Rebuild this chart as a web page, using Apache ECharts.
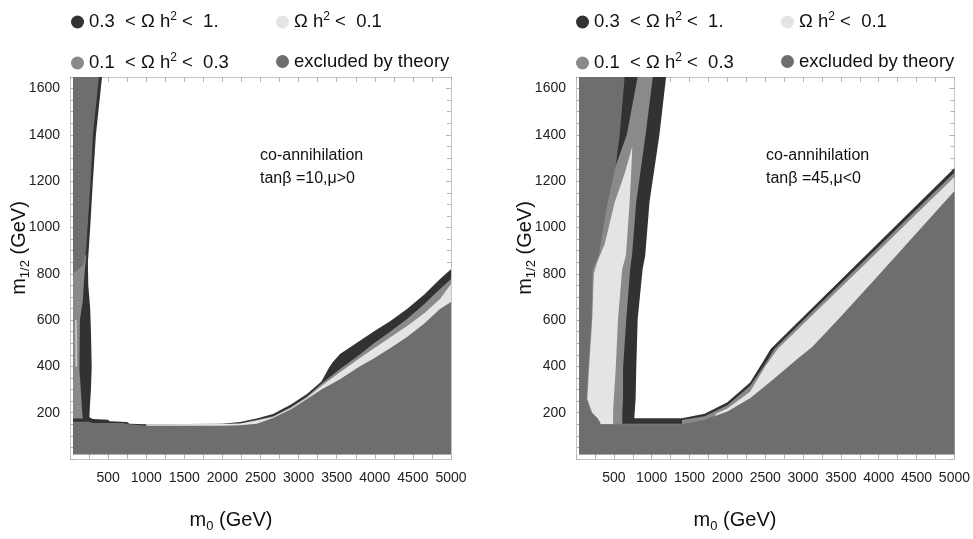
<!DOCTYPE html>
<html><head><meta charset="utf-8">
<script src="https://cdn.jsdelivr.net/npm/echarts@6.0.0/dist/echarts.min.js"></script>
<style>html,body{margin:0;padding:0;background:#fff}#c{width:973px;height:539px}</style>
</head><body><div id="c"></div>
<script>
// ---------- DATA (m0, m1/2 in GeV) ----------
const xTicks = [500,1000,1500,2000,2500,3000,3500,4000,4500,5000];
const yTicks = [200,400,600,800,1000,1200,1400,1600];
const seriesNames = ['0.3 < Ωh² < 1.', '0.1 < Ωh² < 0.3', 'Ωh² < 0.1', 'excluded by theory'];

// Left panel: tanβ = 10, μ > 0
const leftDark = [
  [[40,1650],[420,1650],[340,1400],[300,1200],[265,1000],[235,850],[240,750],[265,650],[275,550],[285,400],[275,300],[260,220],[255,180],[300,173],[500,170],[520,163],[750,160],[780,152],[1000,150],[2000,152],[2231,160],[2450,175],[2664,194],[2900,235],[3110,281],[3300,335],[3400,395],[3450,419],[3543,453],[3800,510],[3976,549],[4200,595],[4423,648],[4650,710],[4856,777],[5000,820],[5000,20],[40,20]]
];
const leftMedium = [
  [[40,880],[215,880],[195,820],[180,750],[167,680],[131,605],[123,390],[150,260],[160,200],[170,175],[40,175]],
  [[1000,148],[2231,152],[2664,185],[2900,225],[3110,270],[3300,325],[3543,389],[3800,450],[3976,497],[4200,550],[4423,605],[4650,670],[4856,734],[5000,777],[5000,20],[1000,20]]
];
const leftLight = [
  [[70,600],[85,600],[90,400],[75,400]],
  [[1000,150],[2000,151],[2231,153],[2450,166],[2664,181],[2900,220],[3110,265],[3300,315],[3543,375],[3800,435],[3976,475],[4200,525],[4423,575],[4650,630],[4856,691],[5000,756],[5000,20],[1000,20]]
];
const leftExcluded = [
  [[40,1650],[380,1650],[300,1400],[270,1200],[230,1000],[210,900],[180,840],[40,800]],
  [[40,20],[40,161],[250,161],[300,155],[700,155],[750,151],[1000,144],[2000,144],[2231,146],[2450,152],[2664,177],[2900,215],[3110,259],[3300,300],[3543,345],[3800,400],[3976,432],[4200,478],[4423,527],[4650,585],[4856,648],[5000,678],[5000,20]]
];

// Right panel: tanβ = 45, μ < 0
const rightDark = [
  [[40,1650],[1190,1650],[1102,1400],[971,1110],[915,880],[880,820],[815,605],[796,390],[788,260],[775,200],[770,176],[1400,176],[1700,195],[2000,245],[2300,330],[2480,425],[2572,475],[3000,613],[3500,774],[4000,935],[4500,1096],[5000,1257],[5000,20],[40,20]]
];
const rightMedium = [
  [[40,1267],[525,1267],[670,1400],[814,1650],[1015,1650],[919,1400],[796,1110],[740,880],[715,820],[665,605],[621,390],[621,260],[612,200],[612,152],[1400,152],[1400,168],[1700,185],[2000,232],[2300,315],[2500,410],[2620,475],[3000,598],[3500,758],[4000,918],[4500,1078],[5000,1238],[5000,20],[40,20]]
];
const rightLight = [
  [[744,1350],[640,1230],[512,1110],[380,930],[280,850],[235,800],[215,605],[172,390],[150,260],[180,230],[215,200],[290,175],[320,160],[320,150],[490,150],[490,200],[499,260],[525,390],[555,605],[610,820],[660,880],[709,1110],[735,1280]],
  [[1800,150],[1850,195],[2000,218],[2300,290],[2500,400],[2664,475],[3000,582],[3500,741],[4000,900],[4500,1059],[5000,1218],[5000,20],[1800,20]]
];
const rightExcluded = [
  [[40,1650],[643,1650],[577,1400],[525,1267],[420,1110],[300,880],[220,820],[205,605],[162,390],[140,260],[170,230],[206,200],[280,175],[315,155],[330,150],[1400,150],[1700,170],[2000,205],[2300,262],[2600,342],[2900,425],[3124,485],[3500,615],[4000,795],[4500,976],[5000,1158],[5000,20],[40,20]]
];

// ---------- STYLE ----------
const FONT = '"Liberation Sans", Arial, Helvetica, sans-serif';
const colors = ['#323232', '#8a8a8a', '#e4e4e4', '#6e6e6e'];
const legendRich = {
  t: {fontSize: 18.5, lineHeight: 22, fontFamily: FONT, color: '#111'},
  s: {fontSize: 12, lineHeight: 12, verticalAlign: 'top', fontFamily: FONT, color: '#111'}
};
const legendText = {
  '0.3 < Ωh² < 1.': '{t|0.3  < Ω h}{s|2}{t| <  1.}',
  '0.1 < Ωh² < 0.3': '{t|0.1  < Ω h}{s|2}{t| <  0.3}',
  'Ωh² < 0.1': '{t|Ω h}{s|2}{t| <  0.1}',
  'excluded by theory': '{t|excluded by theory}'
};

const chart = echarts.init(document.getElementById('c'), null, {renderer: 'canvas'});

function polySeries(name, polys, color, gi) {
  return {
    type: 'custom', name: name, coordinateSystem: 'cartesian2d',
    xAxisIndex: gi * 2, yAxisIndex: gi * 2,
    silent: true, animation: false, clip: true,
    itemStyle: {color: color},
    data: polys.map((p, i) => [i, 0]),
    renderItem: function (params, api) {
      const pts = polys[params.dataIndex].map(pt => api.coord(pt));
      return {type: 'polygon', shape: {points: pts}, style: {fill: color, stroke: null}};
    }
  };
}

const tickColor = '#b4b4b4';
function xAxisPair(gi) {
  const base = {
    gridIndex: gi, type: 'value', min: 0, max: 5000, interval: 500,
    axisLine: {show: true, onZero: false, lineStyle: {color: '#c4c4c4'}},
    axisTick: {show: true, inside: true, length: 5, lineStyle: {color: tickColor}},
    minorTick: {show: true, splitNumber: 2, length: 5, lineStyle: {color: tickColor}},
    splitLine: {show: false}
  };
  return [
    Object.assign({}, base, {position: 'bottom', axisLabel: {
      show: true, fontSize: 14, color: '#222', margin: 12, fontFamily: FONT,
      formatter: v => (xTicks.indexOf(v) >= 0 ? String(v) : '')}}),
    Object.assign({}, base, {position: 'top', axisLabel: {show: false}})
  ];
}
function yAxisPair(gi) {
  const base = {
    gridIndex: gi, type: 'value', min: 0, max: 1650, interval: 200,
    axisLine: {show: true, onZero: false, lineStyle: {color: '#c4c4c4'}},
    axisTick: {show: true, inside: true, length: 5, lineStyle: {color: tickColor}},
    minorTick: {show: true, splitNumber: 4, length: 4, lineStyle: {color: tickColor}},
    splitLine: {show: false}
  };
  return [
    Object.assign({}, base, {position: 'left', axisLabel: {
      show: true, fontSize: 14, color: '#222', margin: 10, fontFamily: FONT,
      showMaxLabel: false,
      formatter: v => (yTicks.indexOf(v) >= 0 ? String(v) : '')}}),
    Object.assign({}, base, {position: 'right', axisLabel: {show: false}})
  ];
}

function legendAt(name, left, top) {
  return {
    data: [name], left: left, top: top, padding: 0, itemGap: 0,
    icon: 'circle', itemWidth: 13, itemHeight: 13, selectedMode: false,
    formatter: n => legendText[n],
    textStyle: {fontSize: 18.5, fontFamily: FONT, color: '#111', rich: legendRich}
  };
}

const panels = [
  {left: 70, data: [leftDark, leftMedium, leftLight, leftExcluded]},
  {left: 576, data: [rightDark, rightMedium, rightLight, rightExcluded]}
];

const series = [];
panels.forEach((p, gi) => {
  p.data.forEach((polys, k) => series.push(polySeries(seriesNames[k], polys, colors[k], gi)));
});

const titleRich = {
  m: {fontSize: 20, lineHeight: 26, fontFamily: FONT, color: '#111'},
  sub: {fontSize: 13, lineHeight: 13, verticalAlign: 'bottom', fontFamily: FONT, color: '#111'}
};
function txt(text, x, y, rot, align) {
  return {type: 'text', x: x, y: y, rotation: rot || 0, silent: true,
    style: {text: text, rich: titleRich, align: align || 'center', verticalAlign: 'middle', fill: '#111', fontFamily: FONT, fontSize: 20}};
}
function note(text, x, y) {
  return {type: 'text', x: x, y: y, silent: true,
    style: {text: text, fontSize: 16, fontFamily: FONT, fill: '#111', align: 'left', verticalAlign: 'middle'}};
}

chart.setOption({
  animation: false,
  backgroundColor: '#ffffff',
  grid: panels.map(p => ({left: p.left, top: 77, width: 381, height: 382, containLabel: false, show: false})),
  xAxis: [].concat(xAxisPair(0), xAxisPair(1)),
  yAxis: [].concat(yAxisPair(0), yAxisPair(1)),
  legend: [
    legendAt(seriesNames[0], 71, 11), legendAt(seriesNames[2], 276, 11),
    legendAt(seriesNames[1], 71, 52), legendAt(seriesNames[3], 276, 52),
    legendAt(seriesNames[0], 576, 11), legendAt(seriesNames[2], 781, 11),
    legendAt(seriesNames[1], 576, 52), legendAt(seriesNames[3], 781, 52)
  ],
  series: series,
  graphic: [
    txt('{m|m}{sub|1/2}{m| (GeV)}', 19, 248, Math.PI / 2),
    txt('{m|m}{sub|1/2}{m| (GeV)}', 525, 248, Math.PI / 2),
    txt('{m|m}{sub|0}{m| (GeV)}', 231, 520, 0),
    txt('{m|m}{sub|0}{m| (GeV)}', 735, 520, 0),
    note('co-annihilation', 260, 156),
    note('tanβ =10,μ>0', 260, 179),
    note('co-annihilation', 766, 156),
    note('tanβ =45,μ<0', 766, 179)
  ]
});
</script></body></html>
